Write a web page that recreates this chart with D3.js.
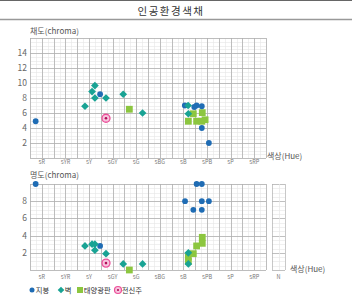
<!DOCTYPE html>
<html>
<head>
<meta charset="utf-8">
<script src="https://cdn.jsdelivr.net/npm/d3@7"></script>
<style>
  body { margin: 0; background: #fff; }
  svg { display: block; font-family: "Noto Sans CJK KR", "Noto Sans", sans-serif; }
</style>
</head>
<body>
<svg id="chart" width="352" height="297"></svg>
<script>
// hue in munsell units (0 = 10RP, 5 = 5R, 15 = 5YR ... 95 = 5RP)
var hueLabels = ['5R', '5YR', '5Y', '5GY', '5G', '5BG', '5B', '5PB', '5P', '5RP'];

// top chart: hue / chroma
var roofChroma  = [[2.4, 4.9], [29.7, 8.5], [65.6, 7.0], [69.6, 6.8], [70.6, 7.0], [72.8, 6.9], [72.8, 4.0], [75.8, 2.0]];
var wallChroma  = [[23.3, 6.9], [26.3, 8.85], [27.5, 9.65], [27.5, 8.0], [32.2, 8.0], [39.5, 8.5], [47.7, 6.0], [67.0, 7.0], [67.1, 5.9]];
var solarChroma = [[42.1, 6.5], [67.1, 4.9], [69.2, 5.9], [70.6, 4.9], [72.8, 4.9], [73.0, 6.05], [74.2, 5.1]];
var poleChroma  = [[32.2, 5.3]];

// bottom chart: hue / value
var roofValue  = [[2.4, 10], [29.7, 2.8], [65.7, 8], [69.2, 7], [70.6, 10], [72.8, 10], [72.8, 8], [72.8, 7], [75.8, 8]];
var wallValue  = [[23.3, 2.8], [26.3, 3.0], [27.5, 3.0], [27.5, 2.3], [32.2, 1.9], [39.5, 0.7], [47.7, 0.7], [67.1, 2.0], [67.1, 0.7]];
var solarValue = [[42.1, 0], [67.1, 1.5], [67.1, 1.0], [69.2, 1.9], [70.6, 2.8], [73.0, 3.8], [73.0, 3.1]];
var poleValue  = [[32.2, 0.8]];

var chromaTicks = [2, 4, 6, 8, 10, 12, 14];
var valueTicks = [2, 4, 6, 8];

var colors = { roof: '#1f6cb4', wall: '#19a394', solar: '#8cc63f', pole: '#ec4f9a' };
var legendItems = [
  { key: 'roof', label: '지붕' },
  { key: 'wall', label: '벽' },
  { key: 'solar', label: '태양광판' },
  { key: 'pole', label: '전신주' }
];

var svg = d3.select('#chart');

// title band
svg.append('line').attr('x1', 0).attr('x2', 352).attr('y1', 0.5).attr('y2', 0.5)
  .attr('stroke', '#666').attr('stroke-width', 1);
svg.append('line').attr('x1', 0).attr('x2', 352).attr('y1', 19.5).attr('y2', 19.5)
  .attr('stroke', '#999').attr('stroke-width', 1.5);
svg.append('text').attr('x', 171).attr('y', 14.5).attr('text-anchor', 'middle')
  .attr('font-size', 10.5).attr('letter-spacing', 1.5).attr('fill', '#333')
  .text('인공환경색채');

var x = d3.scaleLinear().domain([0, 100]).range([30, 266]);

function grid(g, y, ymax) {
  var yMinor = d3.range(0, ymax + 0.01, 0.5);
  var yMajor = d3.range(0, ymax + 0.01, 2);
  var xMinor = d3.range(0, 100.01, 2.5);
  var xMajor = d3.range(0, 100.01, 5);

  g.selectAll('.hmin').data(yMinor).enter().append('line')
    .attr('x1', x(0)).attr('x2', x(100))
    .attr('y1', function(d) { return Math.round(y(d)) + 0.5; })
    .attr('y2', function(d) { return Math.round(y(d)) + 0.5; })
    .attr('stroke', '#e6e6e6').attr('stroke-width', 0.6);
  g.selectAll('.vmin').data(xMinor).enter().append('line')
    .attr('y1', y(0)).attr('y2', y(ymax))
    .attr('x1', function(d) { return Math.round(x(d)) + 0.5; })
    .attr('x2', function(d) { return Math.round(x(d)) + 0.5; })
    .attr('stroke', '#e6e6e6').attr('stroke-width', 0.6);
  g.selectAll('.hmaj').data(yMajor).enter().append('line')
    .attr('x1', x(0)).attr('x2', x(100))
    .attr('y1', function(d) { return Math.round(y(d)) + 0.5; })
    .attr('y2', function(d) { return Math.round(y(d)) + 0.5; })
    .attr('stroke', '#b0b0b0').attr('stroke-width', 0.8);
  g.selectAll('.vmaj').data(xMajor).enter().append('line')
    .attr('y1', y(0)).attr('y2', y(ymax))
    .attr('x1', function(d) { return Math.round(x(d)) + 0.5; })
    .attr('x2', function(d) { return Math.round(x(d)) + 0.5; })
    .attr('stroke', '#b0b0b0').attr('stroke-width', 0.8);
}

function hueAxis(g, yPos) {
  g.selectAll('.hl').data(hueLabels).enter().append('text')
    .attr('x', function(d, i) { return x(5 + i * 10); })
    .attr('y', yPos)
    .attr('text-anchor', 'middle')
    .attr('font-size', 5.5).attr('fill', '#777')
    .text(function(d) { return d; });
}

function yAxis(g, y, ticks) {
  g.selectAll('.yl').data(ticks).enter().append('text')
    .attr('x', 27).attr('y', function(d) { return y(d) + 3; })
    .attr('text-anchor', 'end')
    .attr('font-size', 8.5).attr('fill', '#666')
    .text(function(d) { return d; });
}

var diamond = d3.symbol().type(d3.symbolSquare).size(30);

function marks(g, y, series) {
  var sym = {
    roof: d3.symbol().type(d3.symbolCircle).size(26),
    solar: d3.symbol().type(d3.symbolSquare).size(46)
  };
  ['solar', 'roof'].forEach(function(k) {
    g.selectAll('.m-' + k).data(series[k]).enter().append('path')
      .attr('d', sym[k])
      .attr('transform', function(d) { return 'translate(' + x(d[0]) + ',' + y(d[1]) + ')'; })
      .attr('fill', colors[k]);
  });
  g.selectAll('.m-wall').data(series.wall).enter().append('path')
    .attr('d', diamond)
    .attr('transform', function(d) { return 'translate(' + x(d[0]) + ',' + y(d[1]) + ') rotate(45)'; })
    .attr('fill', colors.wall);
  var p = g.selectAll('.m-pole').data(series.pole).enter().append('g')
    .attr('transform', function(d) { return 'translate(' + x(d[0]) + ',' + y(d[1]) + ')'; });
  p.append('circle').attr('r', 4).attr('fill', '#f7c4dd').attr('stroke', colors.pole).attr('stroke-width', 1.3);
  p.append('circle').attr('r', 1.3).attr('fill', '#b0105a');
}

// top chart (chroma)
var yTop = d3.scaleLinear().domain([0, 16]).range([158, 38]);
var gTop = svg.append('g');
grid(gTop, yTop, 16);
hueAxis(gTop, 163.5);
yAxis(gTop, yTop, chromaTicks);
gTop.append('text').attr('x', 30).attr('y', 34).attr('font-size', 8).attr('fill', '#555').text('채도(chroma)');
gTop.append('text').attr('x', 267).attr('y', 159).attr('font-size', 8).attr('fill', '#555').text('색상(Hue)');
marks(gTop, yTop, { roof: roofChroma, wall: wallChroma, solar: solarChroma, pole: poleChroma });

// bottom chart (value)
var yBot = d3.scaleLinear().domain([0, 10]).range([270, 184]);
var gBot = svg.append('g');
grid(gBot, yBot, 10);
// neutral column
var nx = d3.scaleLinear().domain([0, 1]).range([272, 285]);
gBot.selectAll('.nmin').data(d3.range(0, 10.01, 0.5)).enter().append('line')
  .attr('x1', nx(0)).attr('x2', nx(1))
  .attr('y1', function(d) { return Math.round(yBot(d)) + 0.5; })
  .attr('y2', function(d) { return Math.round(yBot(d)) + 0.5; })
  .attr('stroke', function(d) { return d % 2 === 0 ? '#b0b0b0' : '#e6e6e6'; })
  .attr('stroke-width', function(d) { return d % 2 === 0 ? 0.8 : 0.6; });
gBot.selectAll('.nv').data([0, 0.5, 1]).enter().append('line')
  .attr('y1', yBot(0)).attr('y2', yBot(10))
  .attr('x1', function(d) { return Math.round(nx(d)) + 0.5; })
  .attr('x2', function(d) { return Math.round(nx(d)) + 0.5; })
  .attr('stroke', function(d) { return d === 0.5 ? '#e6e6e6' : '#b0b0b0'; })
  .attr('stroke-width', 0.7);
hueAxis(gBot, 279);
gBot.append('text').attr('x', nx(0.5)).attr('y', 279).attr('text-anchor', 'middle')
  .attr('font-size', 5.5).attr('fill', '#777').text('N');
yAxis(gBot, yBot, valueTicks);
gBot.append('text').attr('x', 30).attr('y', 178).attr('font-size', 8).attr('fill', '#555').text('명도(chroma)');
gBot.append('text').attr('x', 290).attr('y', 272).attr('font-size', 8).attr('fill', '#555').text('색상(Hue)');
marks(gBot, yBot, { roof: roofValue, wall: wallValue, solar: solarValue, pole: poleValue });

// legend
var lx = [32, 61, 80, 118];
var leg = svg.append('g').attr('transform', 'translate(0,290)');
legendItems.forEach(function(it, i) {
  var g = leg.append('g').attr('transform', 'translate(' + lx[i] + ',0)');
  if (it.key === 'roof') g.append('circle').attr('r', 2.5).attr('fill', colors.roof);
  if (it.key === 'wall') g.append('path').attr('d', d3.symbol().type(d3.symbolSquare).size(22))
    .attr('transform', 'rotate(45)').attr('fill', colors.wall);
  if (it.key === 'solar') g.append('rect').attr('x', -3).attr('y', -3).attr('width', 6).attr('height', 6).attr('fill', colors.solar);
  if (it.key === 'pole') {
    g.append('circle').attr('r', 3.5).attr('fill', '#f7c4dd').attr('stroke', colors.pole).attr('stroke-width', 1.2);
    g.append('circle').attr('r', 1.1).attr('fill', '#b0105a');
  }
  g.append('text').attr('x', 3.8).attr('y', 2.8).attr('font-size', 7.3).attr('fill', '#333').text(it.label);
});
</script>
</body>
</html>
